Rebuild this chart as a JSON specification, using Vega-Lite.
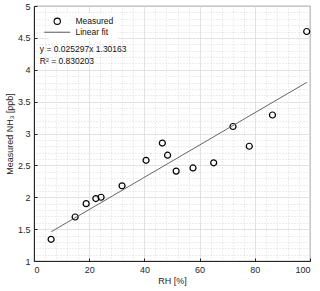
{
  "$schema": "https://vega.github.io/schema/vega-lite/v6.json",
  "width": 276,
  "height": 255,
  "autosize": {"type": "none"},
  "padding": {"left": 34, "top": 6, "right": 10, "bottom": 30},
  "background": "white",
  "config": {
    "font": "Liberation Sans",
    "view": {"stroke": "#262626", "strokeWidth": 0.8},
    "axis": {
      "labelFont": "Liberation Sans",
      "titleFont": "Liberation Sans",
      "labelFontSize": 9,
      "titleFontSize": 9,
      "titleFontWeight": "normal",
      "labelColor": "#262626",
      "titleColor": "#262626",
      "domainColor": "#262626",
      "tickColor": "#262626",
      "gridColor": "#dcdcdc",
      "gridWidth": 0.8
    },
    "legend": {
      "labelFont": "Liberation Sans",
      "labelFontSize": 8.5,
      "labelColor": "#111"
    }
  },
  "datasets": {
    "measured": [
      {"rh": 6.2, "nh3": 1.34, "series": "Measured"},
      {"rh": 14.9, "nh3": 1.69, "series": "Measured"},
      {"rh": 18.9, "nh3": 1.90, "series": "Measured"},
      {"rh": 22.4, "nh3": 1.98, "series": "Measured"},
      {"rh": 24.3, "nh3": 2.00, "series": "Measured"},
      {"rh": 31.9, "nh3": 2.18, "series": "Measured"},
      {"rh": 40.6, "nh3": 2.58, "series": "Measured"},
      {"rh": 46.5, "nh3": 2.85, "series": "Measured"},
      {"rh": 48.4, "nh3": 2.66, "series": "Measured"},
      {"rh": 51.5, "nh3": 2.41, "series": "Measured"},
      {"rh": 57.6, "nh3": 2.46, "series": "Measured"},
      {"rh": 65.1, "nh3": 2.54, "series": "Measured"},
      {"rh": 72.1, "nh3": 3.11, "series": "Measured"},
      {"rh": 78.0, "nh3": 2.80, "series": "Measured"},
      {"rh": 86.4, "nh3": 3.29, "series": "Measured"},
      {"rh": 98.8, "nh3": 4.60, "series": "Measured"}
    ],
    "fit": [
      {"rh": 6.2, "nh3": 1.458},
      {"rh": 98.8, "nh3": 3.801}
    ],
    "notes": [
      {"rh": 2.1, "nh3": 4.33, "text": "y = 0.025297x 1.30163"},
      {"rh": 2.1, "nh3": 4.14, "text": "R² = 0.830203"}
    ]
  },
  "layer": [
    {
      "data": {"name": "measured"},
      "mark": {"type": "point", "opacity": 0},
      "encoding": {
        "x": {
          "field": "rh", "type": "quantitative",
          "scale": {"domain": [0, 100], "nice": false, "zero": false},
          "axis": {"orient": "top", "values": [4,8,12,16,24,28,32,36,44,48,52,56,64,68,72,76,84,88,92,96], "grid": true, "gridDash": [1, 2], "gridColor": "#d0d0d0", "labels": false, "ticks": false, "domain": false, "title": null}
        },
        "y": {
          "field": "nh3", "type": "quantitative",
          "scale": {"domain": [1, 5], "nice": false, "zero": false},
          "axis": {"orient": "right", "values": [1.1,1.2,1.3,1.4,1.6,1.7,1.8,1.9,2.1,2.2,2.3,2.4,2.6,2.7,2.8,2.9,3.1,3.2,3.3,3.4,3.6,3.7,3.8,3.9,4.1,4.2,4.3,4.4,4.6,4.7,4.8,4.9], "grid": true, "gridDash": [1, 2], "gridColor": "#d0d0d0", "labels": false, "ticks": false, "domain": false, "title": null}
        }
      }
    },
    {
      "data": {"name": "measured"},
      "mark": {"type": "point", "filled": false, "strokeWidth": 1.2, "size": 36, "opacity": 1},
      "encoding": {
        "x": {
          "field": "rh", "type": "quantitative",
          "scale": {"domain": [0, 100], "nice": false, "zero": false},
          "axis": {"orient": "bottom", "values": [0, 20, 40, 60, 80, 100], "grid": true, "title": "RH [%]", "tickSize": -3, "labelPadding": 7, "titlePadding": 2}
        },
        "y": {
          "field": "nh3", "type": "quantitative",
          "scale": {"domain": [1, 5], "nice": false, "zero": false},
          "axis": {"orient": "left", "values": [1, 1.5, 2, 2.5, 3, 3.5, 4, 4.5, 5], "format": "~g", "grid": true, "title": "Measured NH₃ [ppb]", "tickSize": -3, "labelPadding": 7, "titlePadding": 3}
        },
        "shape": {
          "field": "series", "type": "nominal",
          "scale": {"domain": ["Measured", "Linear fit"], "range": ["circle", "M-4.1,0H4.1"]},
          "legend": {
            "title": null,
            "orient": "none",
            "legendX": 15,
            "legendY": 7,
            "padding": 4,
            "fillColor": "white",
            "symbolSize": 40,
            "symbolStrokeWidth": 1.1,
            "symbolFillColor": "transparent",
            "labelOffset": 14,
            "rowPadding": 1
          }
        },
        "color": {
          "field": "series", "type": "nominal",
          "scale": {"domain": ["Measured", "Linear fit"], "range": ["black", "#666666"]},
          "legend": {
            "title": null,
            "orient": "none",
            "legendX": 15,
            "legendY": 7,
            "padding": 4,
            "fillColor": "white",
            "symbolSize": 40,
            "symbolStrokeWidth": 1.1,
            "symbolFillColor": "transparent",
            "labelOffset": 14,
            "rowPadding": 1
          }
        }
      }
    },
    {
      "data": {"name": "fit"},
      "mark": {"type": "line", "color": "#666666", "strokeWidth": 1},
      "encoding": {
        "x": {"field": "rh", "type": "quantitative", "scale": {"domain": [0, 100], "nice": false, "zero": false}, "axis": null},
        "y": {"field": "nh3", "type": "quantitative", "scale": {"domain": [1, 5], "nice": false, "zero": false}, "axis": null}
      }
    },
    {
      "data": {"name": "notes"},
      "mark": {"type": "text", "align": "left", "baseline": "middle", "fontSize": 8.5, "color": "#111", "font": "Liberation Sans"},
      "encoding": {
        "x": {"field": "rh", "type": "quantitative", "scale": {"domain": [0, 100], "nice": false, "zero": false}, "axis": null},
        "y": {"field": "nh3", "type": "quantitative", "scale": {"domain": [1, 5], "nice": false, "zero": false}, "axis": null},
        "text": {"field": "text", "type": "nominal"}
      }
    }
  ],
  "resolve": {"axis": {"x": "independent", "y": "independent"}}
}
